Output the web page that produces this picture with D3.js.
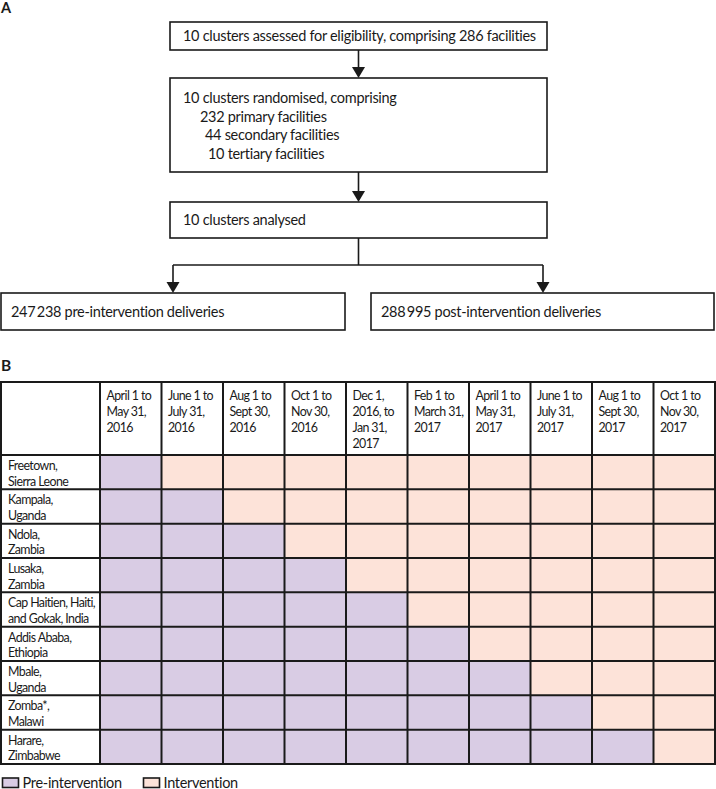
<!DOCTYPE html>
<html><head><meta charset="utf-8">
<script src="https://cdn.jsdelivr.net/npm/d3@7"></script>
<style>
body{margin:0;background:#fff;}
svg{display:block;font-family:"Lato","Noto Sans",sans-serif;}
</style></head>
<body>
<div id="chart"></div>
<script>
// ---- Data ----
const flowSteps = [
  ["10 clusters assessed for eligibility, comprising 286 facilities"],
  ["10 clusters randomised, comprising", "232 primary facilities", "44 secondary facilities", "10 tertiary facilities"],
  ["10 clusters analysed"]
];
const flowIndents = [[0],[0,17,22,25],[0]];
const outcomes = ["247\u2009238 pre-intervention deliveries", "288\u2009995 post-intervention deliveries"];

const periods = [
  ["April 1 to","May 31,","2016"],
  ["June 1 to","July 31,","2016"],
  ["Aug 1 to","Sept 30,","2016"],
  ["Oct 1 to","Nov 30,","2016"],
  ["Dec 1,","2016, to","Jan 31,","2017"],
  ["Feb 1 to","March 31,","2017"],
  ["April 1 to","May 31,","2017"],
  ["June 1 to","July 31,","2017"],
  ["Aug 1 to","Sept 30,","2017"],
  ["Oct 1 to","Nov 30,","2017"]
];
const sites = [
  ["Freetown,","Sierra Leone"],
  ["Kampala,","Uganda"],
  ["Ndola,","Zambia"],
  ["Lusaka,","Zambia"],
  ["Cap Haitien, Haiti,","and Gokak, India"],
  ["Addis Ababa,","Ethiopia"],
  ["Mbale,","Uganda"],
  ["Zomba*,","Malawi"],
  ["Harare,","Zimbabwe"]
];
// number of pre-intervention periods for each site (then intervention)
const prePeriods = [1,2,3,4,5,6,7,8,9];
const phases = ["Pre-intervention","Intervention"];
const phaseColors = ["#d9cce4","#fde3d9"];

// ---- Drawing ----
const W = 716, H = 789;
const svg = d3.select("#chart").append("svg").attr("width", W).attr("height", H);
const ink = "#1a1a1a";
const flowFont = 14.5, flowLS = -0.3;

// Panel A
svg.append("text").attr("x",1).attr("y",13).attr("font-size",14.5).attr("font-weight","bold")
  .attr("fill",ink).text("A");

const boxes = [
  {x:170,y:22,w:377,h:28},
  {x:170,y:78,w:377,h:94},
  {x:170,y:202,w:377,h:36}
];
const gA = svg.append("g");
gA.selectAll("rect.fb").data(boxes).join("rect").attr("class","fb")
  .attr("x",d=>d.x).attr("y",d=>d.y).attr("width",d=>d.w).attr("height",d=>d.h)
  .attr("fill","#fff").attr("stroke",ink).attr("stroke-width",1.6);
flowSteps.forEach((lines,i)=>{
  const b = boxes[i];
  const t = gA.append("text").attr("font-size",flowFont).attr("letter-spacing",flowLS).attr("fill",ink);
  const firstY = lines.length===1 ? b.y + b.h/2 + 5 : b.y + 25;
  lines.forEach((l,j)=>{
    t.append("tspan").attr("x", 183 + flowIndents[i][j]).attr("y", firstY + j*18.6).text(l);
  });
});

function arrowDown(x, y1, y2){
  gA.append("line").attr("x1",x).attr("x2",x).attr("y1",y1).attr("y2",y2-10)
    .attr("stroke",ink).attr("stroke-width",1.6);
  gA.append("path").attr("d",`M${x-6.5},${y2-11}L${x+6.5},${y2-11}L${x},${y2}Z`).attr("fill",ink);
}
const cx = 358.5;
arrowDown(cx, 50, 78);
arrowDown(cx, 172, 202);
gA.append("line").attr("x1",cx).attr("x2",cx).attr("y1",238).attr("y2",265).attr("stroke",ink).attr("stroke-width",1.6);
gA.append("line").attr("x1",173).attr("x2",543).attr("y1",265).attr("y2",265).attr("stroke",ink).attr("stroke-width",1.6);
arrowDown(173, 265, 293);
arrowDown(543, 265, 293);
const outBoxes = [{x:1,y:293,w:344,h:37},{x:371,y:293,w:343,h:37}];
gA.selectAll("rect.ob").data(outBoxes).join("rect").attr("class","ob")
  .attr("x",d=>d.x).attr("y",d=>d.y).attr("width",d=>d.w).attr("height",d=>d.h)
  .attr("fill","#fff").attr("stroke",ink).attr("stroke-width",1.6);
gA.selectAll("text.ot").data(outcomes).join("text").attr("class","ot")
  .attr("x",(d,i)=>outBoxes[i].x+10).attr("y",(d,i)=>outBoxes[i].y+23.5)
  .attr("font-size",flowFont).attr("letter-spacing",flowLS).attr("fill",ink).text(d=>d);

// Panel B
svg.append("text").attr("x",1).attr("y",371).attr("font-size",15.5).attr("font-weight","bold")
  .attr("fill",ink).text("B");

const tableLeft = 1, labelRight = 100, tableRight = 715;
const headTop = 382, headBottom = 455, bodyBottom = 764;
const x = d3.scaleBand().domain(d3.range(periods.length)).range([labelRight, tableRight]);
const y = d3.scaleBand().domain(d3.range(sites.length)).range([headBottom, bodyBottom]);

const gB = svg.append("g");
const tableFont = 12.4, tableLS = -0.6;
// cells
const cells = [];
sites.forEach((s,i)=>periods.forEach((p,j)=>cells.push({i,j,phase: j < prePeriods[i] ? 0 : 1})));
gB.selectAll("rect.cell").data(cells).join("rect").attr("class","cell")
  .attr("x",d=>x(d.j)).attr("y",d=>y(d.i)).attr("width",x.bandwidth()).attr("height",y.bandwidth())
  .attr("fill",d=>phaseColors[d.phase]);

// header texts
periods.forEach((lines,j)=>{
  const t = gB.append("text").attr("font-size",tableFont).attr("letter-spacing",tableLS).attr("fill",ink);
  lines.forEach((l,k)=>t.append("tspan").attr("x",x(j)+6.5).attr("y",headTop+18+k*16).text(l));
});
// row labels
sites.forEach((lines,i)=>{
  const t = gB.append("text").attr("font-size",tableFont).attr("letter-spacing",tableLS).attr("fill",ink);
  lines.forEach((l,k)=>t.append("tspan").attr("x",tableLeft+7).attr("y",y(i)+15+k*15.5).text(l));
});

// grid lines
const gridW = 2;
const vx = [tableLeft, labelRight, ...d3.range(1,periods.length).map(j=>x(j)), tableRight];
gB.selectAll("line.v").data(vx).join("line").attr("class","v")
  .attr("x1",d=>d).attr("x2",d=>d).attr("y1",headTop).attr("y2",bodyBottom)
  .attr("stroke",ink).attr("stroke-width",gridW);
const hy = [headTop, headBottom, ...d3.range(1,sites.length).map(i=>y(i)), bodyBottom];
gB.selectAll("line.h").data(hy).join("line").attr("class","h")
  .attr("x1",tableLeft-1).attr("x2",tableRight+1).attr("y1",d=>d).attr("y2",d=>d)
  .attr("stroke",ink).attr("stroke-width",gridW);

// legend
const lg = gB.selectAll("g.lg").data(phases).join("g").attr("class","lg")
  .attr("transform",(d,i)=>`translate(${i===0?2.5:143.5},778)`);
lg.append("rect").attr("width",16).attr("height",9.5).attr("fill",(d,i)=>phaseColors[i])
  .attr("stroke",ink).attr("stroke-width",1.6);
lg.append("text").attr("x",20).attr("y",9.5).attr("font-size",14.5).attr("letter-spacing",-0.3)
  .attr("fill",ink).text(d=>d);
</script>
</body></html>
